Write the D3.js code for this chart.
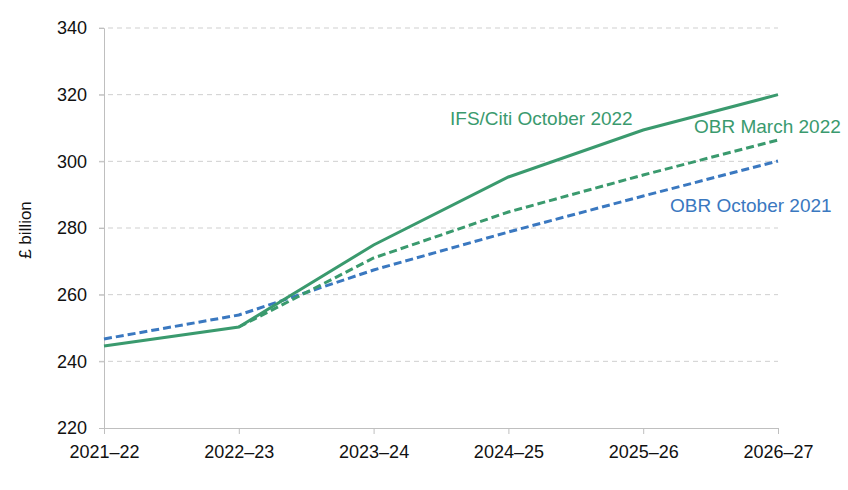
<!DOCTYPE html>
<html><head><meta charset="utf-8">
<script src="https://cdn.jsdelivr.net/npm/d3@7"></script>
<style>body{margin:0;background:#fff;font-family:Arial,"Liberation Sans",sans-serif;}</style>
</head><body><svg id="c" width="848" height="490"></svg>
<script>
const categories = ["2021–22","2022–23","2023–24","2024–25","2025–26","2026–27"];
const ifsCiti = [244.6, 250.3, 274.9, 295.3, 309.4, 320.0];
const obrMar22 = [null, 250.3, 271.0, 284.8, 295.9, 306.4];
const obrOct21 = [246.7, 253.9, 267.4, 278.8, 289.6, 300.1];
const yTicks = [220, 240, 260, 280, 300, 320, 340];

const green = "#3a9a6e", blue = "#3a78c0";
const svg = d3.select("#c");
const m = {l:104, r:70, t:28, b:62};
const W = 848, H = 490;
const FF = "Arial, Liberation Sans, sans-serif";
const x = d3.scalePoint().domain(categories).range([m.l, W - m.r]);
const y = d3.scaleLinear().domain([220, 340]).range([H - m.b, m.t]);

// gridlines
svg.append("g").selectAll("line").data(yTicks.slice(1)).join("line")
  .attr("x1", m.l - 5).attr("x2", W - m.r)
  .attr("y1", d => y(d)).attr("y2", d => y(d))
  .attr("stroke", "#cfcfcf").attr("stroke-width", 1).attr("stroke-dasharray", "5,4");

// y axis
const ya = svg.append("g").attr("transform", `translate(${m.l},0)`)
  .call(d3.axisLeft(y).tickValues(yTicks).tickSize(5).tickPadding(12));
ya.select(".domain").attr("stroke", "#bfbfbf");
ya.selectAll(".tick line").attr("stroke", "#bfbfbf");
ya.selectAll("text").attr("font-size", 18).attr("fill", "#111").attr("font-family", FF);

// x axis
const xa = svg.append("g").attr("transform", `translate(0,${H - m.b})`)
  .call(d3.axisBottom(x).tickSize(6).tickSizeOuter(0).tickPadding(11));
xa.select(".domain").attr("stroke", "#bfbfbf");
xa.selectAll(".tick line").attr("stroke", "#bfbfbf");
xa.selectAll("text").attr("font-size", 18).attr("fill", "#111").attr("font-family", FF);

// y title
svg.append("text").attr("transform", `translate(31,230) rotate(-90)`)
  .attr("text-anchor", "middle").attr("font-size", 17).attr("fill", "#111")
  .attr("font-family", FF).text("£ billion");

const line = d3.line().defined(d => d.v != null).x(d => x(d.c)).y(d => y(d.v));
const mk = arr => categories.map((c, i) => ({c, v: arr[i]}));

svg.append("path").datum(mk(obrOct21)).attr("d", line).attr("fill", "none")
  .attr("stroke", blue).attr("stroke-width", 3).attr("stroke-dasharray", "8,4");
svg.append("path").datum(mk(obrMar22)).attr("d", line).attr("fill", "none")
  .attr("stroke", green).attr("stroke-width", 3).attr("stroke-dasharray", "8,4");
svg.append("path").datum(mk(ifsCiti)).attr("d", line).attr("fill", "none")
  .attr("stroke", green).attr("stroke-width", 3);

const lab = (t, xx, yy, col) => svg.append("text").attr("x", xx).attr("y", yy)
  .attr("font-size", 19).attr("fill", col).attr("font-family", FF).text(t);
lab("IFS/Citi October 2022", 450, 125, green);
lab("OBR March 2022", 694, 133, green);
lab("OBR October 2021", 670, 212, blue);
</script></body></html>
